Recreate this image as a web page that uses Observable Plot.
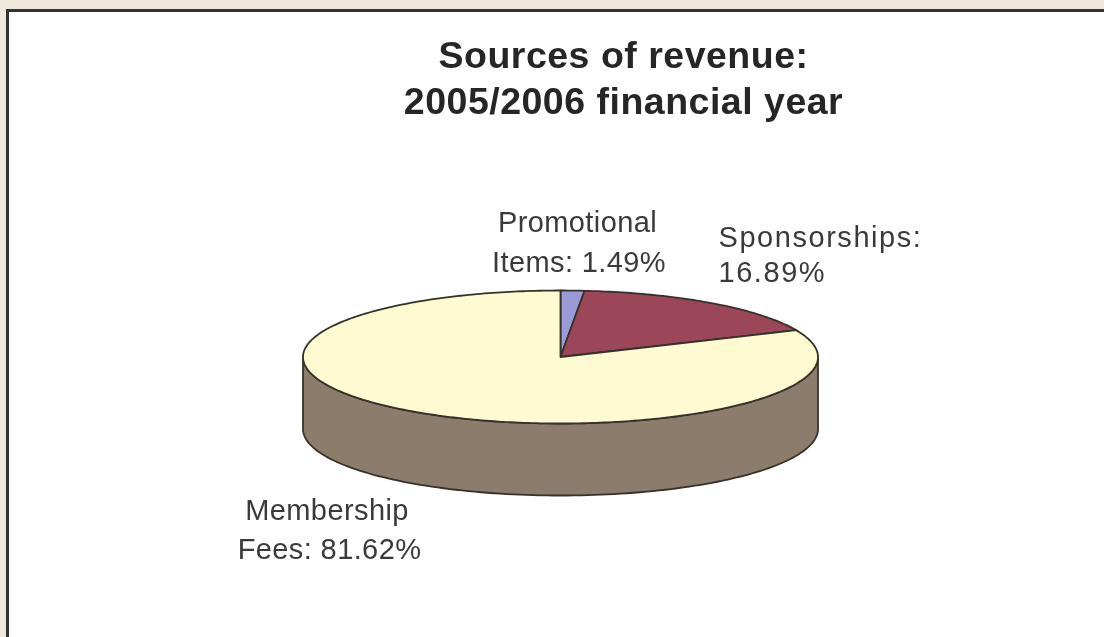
<!DOCTYPE html>
<html>
<head>
<meta charset="utf-8">
<script src="https://cdn.jsdelivr.net/npm/d3@7"></script>
<script src="https://cdn.jsdelivr.net/npm/@observablehq/plot@0.6"></script>
<style>
html,body{margin:0;padding:0;background:#fff;overflow:hidden}
#page{position:absolute;left:0;top:0;width:1104px;height:637px;background:#efe6dc;overflow:hidden}
#card{position:absolute;left:6px;top:9px;width:1098px;height:628px;background:#fff;border-left:3px solid #333;border-top:3px solid #333;box-sizing:border-box}
#chart{position:absolute;left:0;top:0}
#chart svg{display:block;background:transparent;filter:blur(0.6px)}
.ttl text{letter-spacing:0.5px}
.lbl text{letter-spacing:0.4px}
.lblwide text{letter-spacing:1.55px}
</style>
</head>
<body>
<div id="page"><div id="card"></div><div id="chart"></div></div>
<script>
const categories = ["Promotional Items", "Sponsorships", "Membership Fees"];
const shares = [1.49, 16.89, 81.62];
const sliceColors = ["#9a9ad6", "#9c4659", "#fefbd2"];
const sideColor = "#8c7c6c";
const titleLines = ["Sources of revenue:", "2005/2006 financial year"];
const titleY = [55.5, 101.5];
const labelLines = [
  ["Promotional", 577, 222.7], ["Items: 1.49%", 578.5, 262.7],
  ["Membership", 326.5, 510.7], ["Fees: 81.62%", 329, 549.7]
];
const sponsorLines = [["Sponsorships:", 718, 237.7], ["16.89%", 718, 272.7]];

// Pie geometry (tilted ellipse)
const cx = 560, cy = 356.5, rx = 257.5, ry = 66.5, depth = 72;
const pt = (a, dy = 0) => [cx + rx * Math.sin(a), cy - ry * Math.cos(a) + dy];

const arcs = d3.pie().sort(null).value(d => d)(shares);
const topRows = arcs.flatMap((arc, i) => {
  const n = Math.max(4, Math.ceil((arc.endAngle - arc.startAngle) * 60));
  const pts = [[cx, cy]];
  for (let k = 0; k <= n; k++) pts.push(pt(arc.startAngle + (arc.endAngle - arc.startAngle) * k / n));
  pts.push([cx, cy]);
  return pts.map(([x, y]) => ({x, y, cat: categories[i]}));
});
const sideRows = [];
for (let k = 0; k <= 120; k++) { const [x, y] = pt(Math.PI / 2 + Math.PI * k / 120); sideRows.push({x, y}); }
for (let k = 120; k >= 0; k--) { const [x, y] = pt(Math.PI / 2 + Math.PI * k / 120, depth); sideRows.push({x, y}); }
sideRows.push(sideRows[0]);

const labelStyle = {fontFamily: "Liberation Sans", fontSize: 29, fill: "#3a3a3a", lineAnchor: "middle"};
const plot = Plot.plot({
  width: 1104, height: 637, margin: 0,
  x: {domain: [0, 1104], range: [0, 1104], axis: null},
  y: {domain: [0, 637], range: [0, 637], axis: null},
  color: {domain: categories, range: sliceColors},
  style: {background: "transparent"},
  marks: [
    Plot.line(sideRows, {x: "x", y: "y", fill: sideColor, stroke: "#35322a", strokeWidth: 1.8, curve: "linear"}),
    Plot.line(topRows, {x: "x", y: "y", z: "cat", fill: "cat", stroke: "#35322a", strokeWidth: 1.8, curve: "linear"}),
    Plot.text(titleLines, {
      text: d => d, x: () => 623, y: (d, i) => titleY[i], textAnchor: "middle", className: "ttl",
      fontFamily: "Liberation Sans", fontWeight: "bold", fontSize: 37.5, fill: "#262626", lineAnchor: "middle"
    }),
    Plot.text(labelLines, {text: d => d[0], x: d => d[1], y: d => d[2], textAnchor: "middle", className: "lbl", ...labelStyle}),
    Plot.text(sponsorLines, {text: d => d[0], x: d => d[1], y: d => d[2], textAnchor: "start", className: "lblwide", ...labelStyle})
  ]
});
document.getElementById("chart").appendChild(plot);
</script>
</body>
</html>
